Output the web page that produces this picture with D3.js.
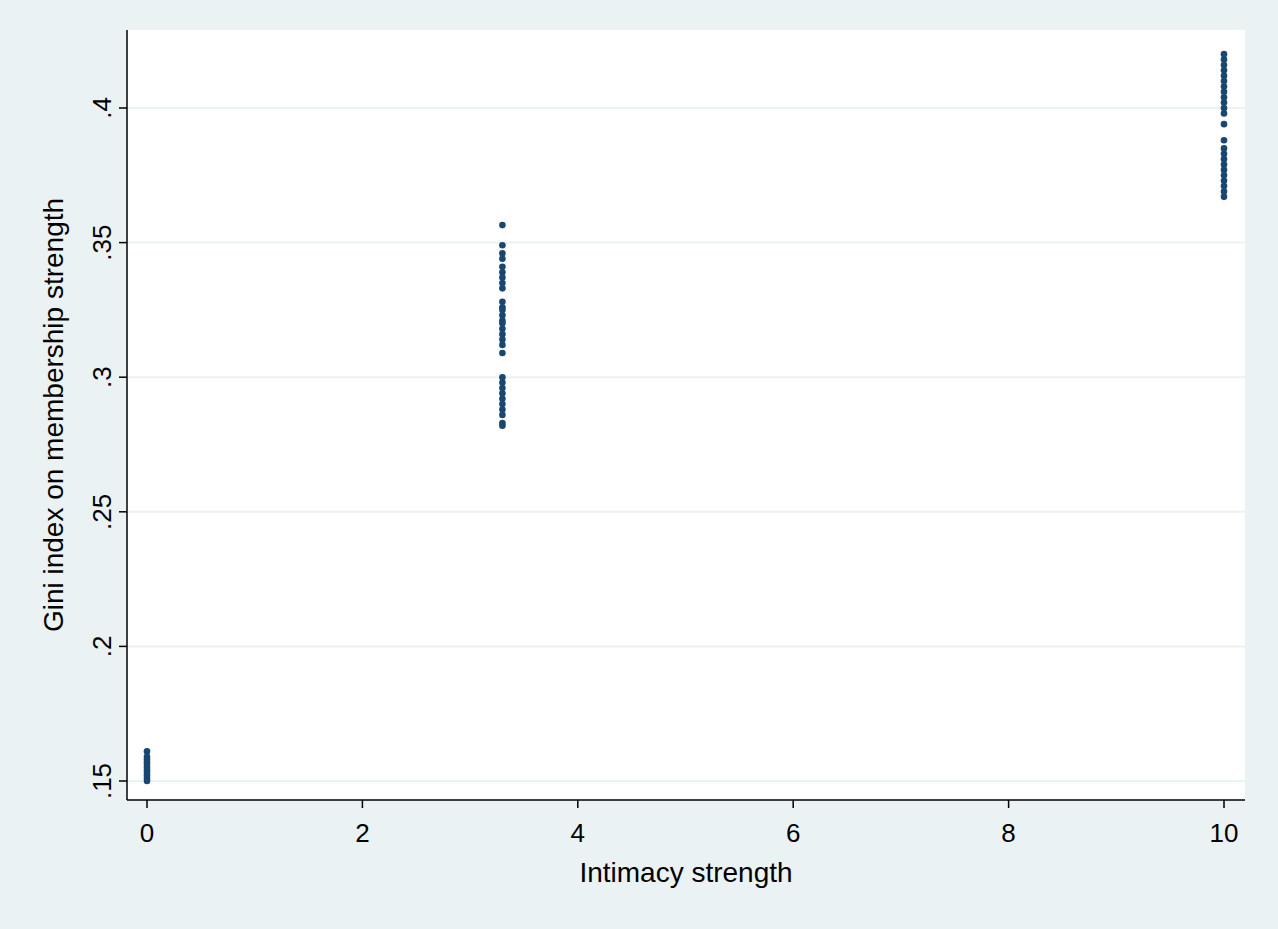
<!DOCTYPE html>
<html><head><meta charset="utf-8">
<script src="https://cdn.jsdelivr.net/npm/d3@7"></script>
<style>body{margin:0;background:#eaf2f3}svg{display:block}text{font-family:"Liberation Sans",Arial,sans-serif;fill:#000}</style>
</head><body>
<script>
const xTicks = [0, 2, 4, 6, 8, 10];
const yTicks = [0.15, 0.2, 0.25, 0.3, 0.35, 0.4];
const yTickLabels = ['.15', '.2', '.25', '.3', '.35', '.4'];
const groupX = [0, 3.3, 10];
const gini0 = [0.161,0.159,0.158,0.157,0.156,0.155,0.154,0.153,0.152,0.151,0.150];
const gini33 = [0.3565,0.349,0.346,0.344,0.341,0.339,0.337,0.335,0.333,0.328,0.326,0.325,0.323,0.321,0.320,0.318,0.316,0.314,0.312,0.309,0.300,0.298,0.296,0.294,0.292,0.290,0.288,0.286,0.283,0.282];
const gini10 = [0.420,0.418,0.416,0.414,0.412,0.410,0.408,0.406,0.404,0.402,0.400,0.398,0.394,0.388,0.385,0.383,0.381,0.379,0.377,0.375,0.373,0.371,0.369,0.367];

const W = 1278, H = 929;
const plot = {left: 127, right: 1245, top: 30, bottom: 800};
const x = d3.scaleLinear().domain([0, 10]).range([147, 1224]);
const y = d3.scaleLinear().domain([0.15, 0.4]).range([781, 108]);

const svg = d3.select('body').append('svg').attr('width', W).attr('height', H);
svg.append('rect').attr('width', W).attr('height', H).attr('fill', '#eaf2f3');
svg.append('rect').attr('x', plot.left).attr('y', plot.top)
    .attr('width', plot.right - plot.left).attr('height', plot.bottom - plot.top).attr('fill', '#fff');

// gridlines
svg.selectAll('.grid').data(yTicks).enter().append('line')
    .attr('x1', plot.left).attr('x2', plot.right)
    .attr('y1', d => y(d)).attr('y2', d => y(d))
    .attr('stroke', '#eaf2f3').attr('stroke-width', 2);

// points
const points = [];
[gini0, gini33, gini10].forEach((arr, i) => arr.forEach(v => points.push({x: groupX[i], y: v})));
svg.selectAll('.pt').data(points).enter().append('circle')
    .attr('cx', d => x(d.x)).attr('cy', d => y(d.y)).attr('r', 3.3)
    .attr('fill', '#1a476f');

// axes
const yAxis = svg.append('g').attr('transform', `translate(${plot.left},0)`);
yAxis.append('line').attr('y1', plot.top).attr('y2', plot.bottom).attr('stroke', '#000').attr('stroke-width', 1.5);
yTicks.forEach((t, i) => {
    yAxis.append('line').attr('x1', 0).attr('x2', -8).attr('y1', y(t)).attr('y2', y(t)).attr('stroke', '#000').attr('stroke-width', 1.5);
    yAxis.append('text').text(yTickLabels[i])
        .attr('transform', `translate(-16,${y(t)}) rotate(-90)`)
        .attr('text-anchor', 'middle').attr('font-size', 26);
});

const xAxis = svg.append('g').attr('transform', `translate(0,${plot.bottom})`);
xAxis.append('line').attr('x1', plot.left).attr('x2', plot.right).attr('stroke', '#000').attr('stroke-width', 1.5);
xTicks.forEach(t => {
    xAxis.append('line').attr('x1', x(t)).attr('x2', x(t)).attr('y1', 0).attr('y2', 8).attr('stroke', '#000').attr('stroke-width', 1.5);
    xAxis.append('text').text(t).attr('x', x(t)).attr('y', 42)
        .attr('text-anchor', 'middle').attr('font-size', 26);
});

svg.append('text').text('Intimacy strength').attr('x', (plot.left + plot.right) / 2).attr('y', 882)
    .attr('text-anchor', 'middle').attr('font-size', 28);
svg.append('text').text('Gini index on membership strength')
    .attr('transform', `translate(63,${(plot.top + plot.bottom) / 2}) rotate(-90)`)
    .attr('text-anchor', 'middle').attr('font-size', 28);
</script>
</body></html>
